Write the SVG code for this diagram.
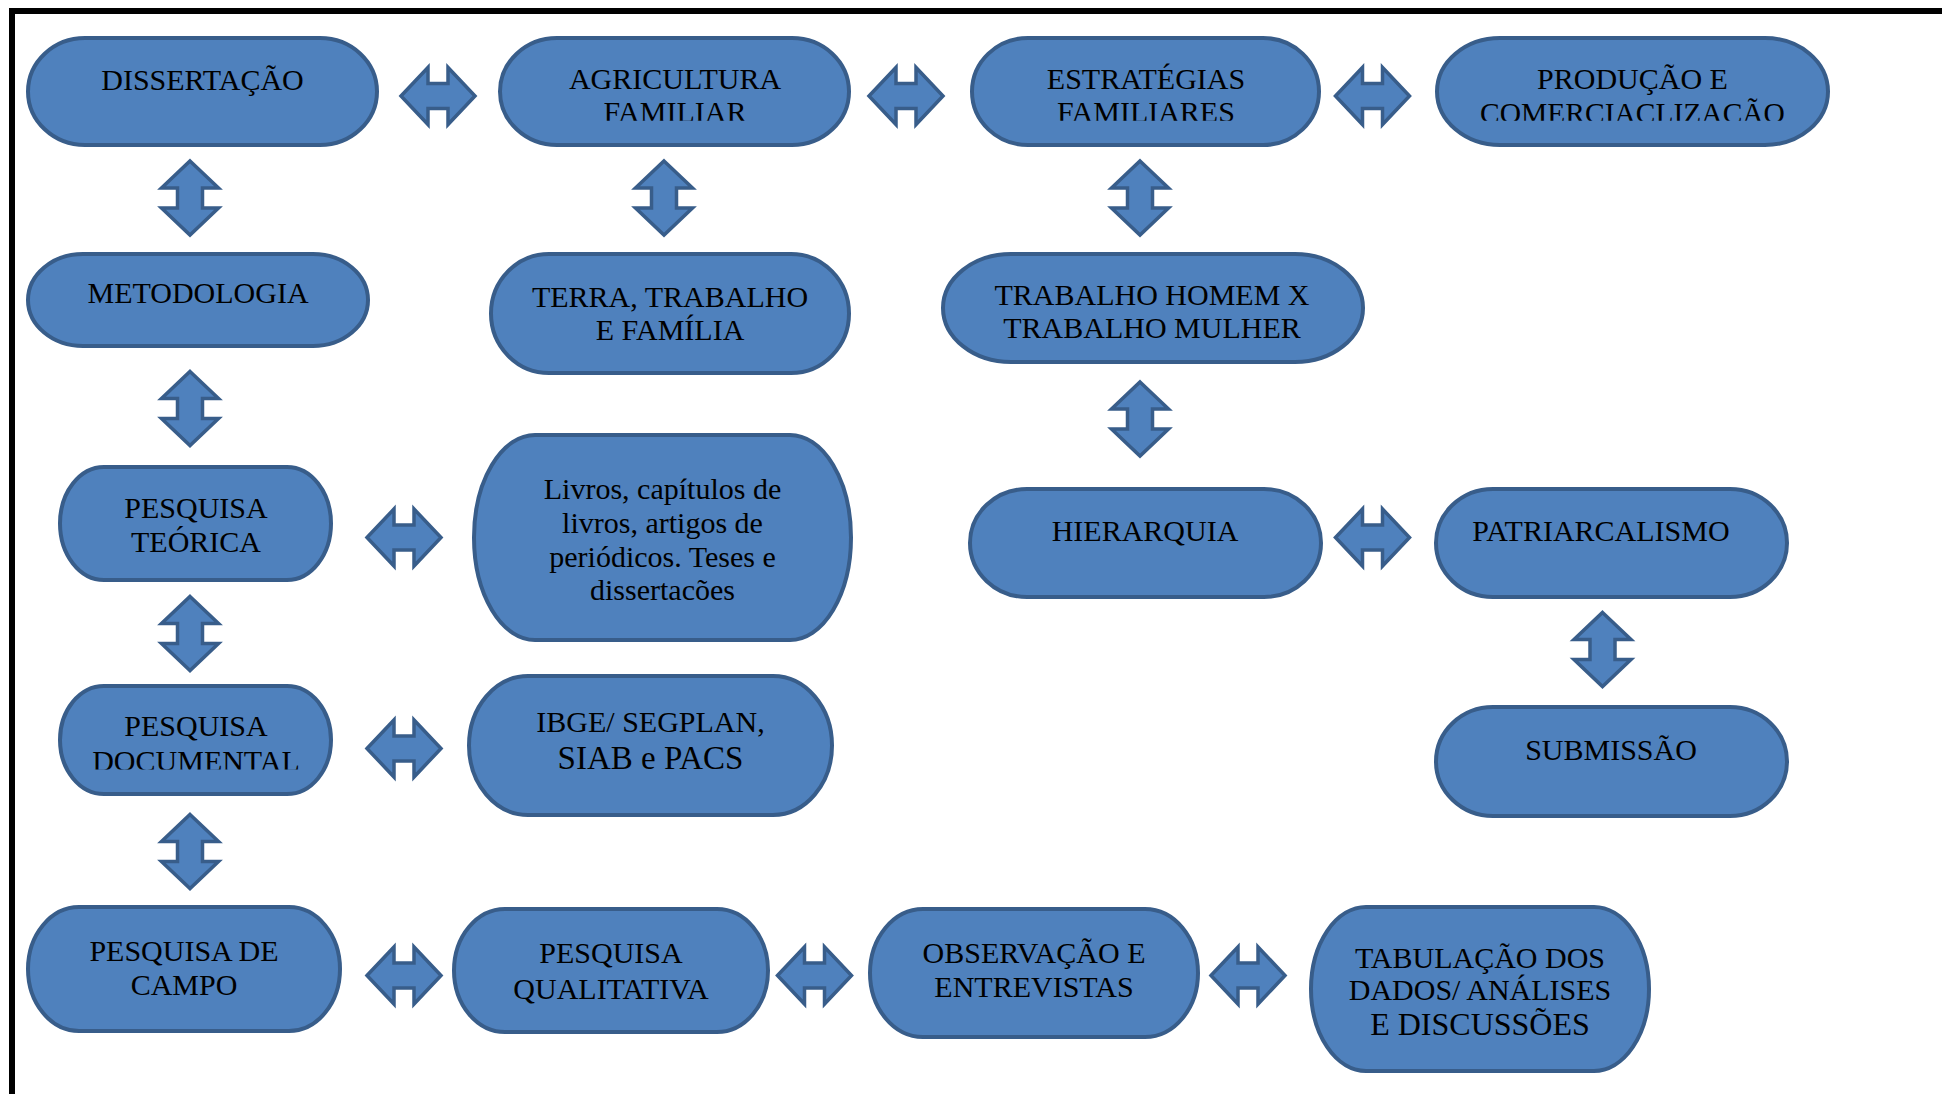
<svg xmlns="http://www.w3.org/2000/svg" xmlns:xlink="http://www.w3.org/1999/xlink" width="1942" height="1094" viewBox="0 0 1942 1094">
<style>
.box{fill:#4F81BD;stroke:#385D8A;stroke-width:4}
.arr{fill:#4F81BD;stroke:#385D8A;stroke-width:3.5;stroke-linejoin:miter}
.t{font-family:"Liberation Serif","Times New Roman",serif;font-size:30px;fill:#000;text-anchor:middle}
</style>
<defs>
<path id="harrow" d="M -37 0 L -10 -28.5 L -10 -12.5 L 10 -12.5 L 10 -28.5 L 37 0 L 10 28.5 L 10 12.5 L -10 12.5 L -10 28.5 Z"/>
<clipPath id="clipTop"><rect x="0" y="0" width="1942" height="120.8"/></clipPath>
<clipPath id="clipDoc"><rect x="0" y="600" width="1942" height="169.5"/></clipPath>
</defs>
<rect x="0" y="0" width="1942" height="1094" fill="#fff"/>
<path d="M12 1094 V11 H1942" fill="none" stroke="#000" stroke-width="6"/>

<g id="connectors">
<use xlink:href="#harrow" href="#harrow" class="arr" transform="translate(438,96)"/>
<use xlink:href="#harrow" href="#harrow" class="arr" transform="translate(906,96)"/>
<use xlink:href="#harrow" href="#harrow" class="arr" transform="translate(1372.5,96)"/>
<use xlink:href="#harrow" href="#harrow" class="arr" transform="translate(404,537.5)"/>
<use xlink:href="#harrow" href="#harrow" class="arr" transform="translate(1372.5,537.5)"/>
<use xlink:href="#harrow" href="#harrow" class="arr" transform="translate(404,748.5)"/>
<use xlink:href="#harrow" href="#harrow" class="arr" transform="translate(404,975.5)"/>
<use xlink:href="#harrow" href="#harrow" class="arr" transform="translate(814.5,975.5)"/>
<use xlink:href="#harrow" href="#harrow" class="arr" transform="translate(1248,975.5)"/>
<use xlink:href="#harrow" href="#harrow" class="arr" transform="translate(190,198) rotate(90)"/>
<use xlink:href="#harrow" href="#harrow" class="arr" transform="translate(664,198) rotate(90)"/>
<use xlink:href="#harrow" href="#harrow" class="arr" transform="translate(1140,198) rotate(90)"/>
<use xlink:href="#harrow" href="#harrow" class="arr" transform="translate(190,408.5) rotate(90)"/>
<use xlink:href="#harrow" href="#harrow" class="arr" transform="translate(1140,419) rotate(90)"/>
<use xlink:href="#harrow" href="#harrow" class="arr" transform="translate(190,633.5) rotate(90)"/>
<use xlink:href="#harrow" href="#harrow" class="arr" transform="translate(1602.5,649.5) rotate(90)"/>
<use xlink:href="#harrow" href="#harrow" class="arr" transform="translate(190,851.5) rotate(90)"/>
</g>

<g id="n-dissertacao">
<rect class="box" x="28" y="38" width="349" height="107" rx="57" ry="53.5"/>
<text class="t" x="202.5" y="90">DISSERTAÇÃO</text>
</g>
<g id="n-agricultura">
<rect class="box" x="500" y="38" width="349" height="107" rx="57" ry="53.5"/>
<g clip-path="url(#clipTop)">
<text class="t" x="675" y="89">AGRICULTURA</text>
<text class="t" x="675" y="122">FAMILIAR</text>
</g>
</g>
<g id="n-estrategias">
<rect class="box" x="972" y="38" width="347" height="107" rx="56" ry="53.5"/>
<g clip-path="url(#clipTop)">
<text class="t" x="1146" y="89">ESTRATÉGIAS</text>
<text class="t" x="1146" y="122">FAMILIARES</text>
</g>
</g>
<g id="n-producao">
<rect class="box" x="1437" y="38" width="391" height="107" rx="63" ry="53.5"/>
<g clip-path="url(#clipTop)">
<text class="t" x="1632.5" y="89">PRODUÇÃO E</text>
<text class="t" x="1632.5" y="122.5" style="font-size:29.5px">COMERCIACLIZAÇÃO</text>
</g>
</g>
<g id="n-metodologia">
<rect class="box" x="28" y="254" width="340" height="92" rx="55" ry="46"/>
<text class="t" x="198" y="303">METODOLOGIA</text>
</g>
<g id="n-terra">
<rect class="box" x="491" y="254" width="358" height="119" rx="58" ry="59.5"/>
<text class="t" x="670" y="307">TERRA, TRABALHO</text>
<text class="t" x="670" y="340">E FAMÍLIA</text>
</g>
<g id="n-trabalho">
<rect class="box" x="943" y="254" width="420" height="108" rx="68" ry="54"/>
<text class="t" x="1152" y="305">TRABALHO HOMEM X</text>
<text class="t" x="1152" y="338">TRABALHO MULHER</text>
</g>
<g id="n-pesquisa-teorica">
<rect class="box" x="60" y="467" width="271" height="113" rx="44" ry="56.5"/>
<text class="t" x="196" y="518">PESQUISA</text>
<text class="t" x="196" y="552">TEÓRICA</text>
</g>
<g id="n-livros">
<rect class="box" x="474" y="435" width="377" height="205" rx="61" ry="102.5"/>
<text class="t" x="662.5" y="499">Livros, capítulos de</text>
<text class="t" x="662.5" y="533">livros, artigos de</text>
<text class="t" x="662.5" y="567">periódicos. Teses e</text>
<text class="t" x="662.5" y="600">dissertacões</text>
</g>
<g id="n-hierarquia">
<rect class="box" x="970" y="489" width="351" height="108" rx="57" ry="54"/>
<text class="t" x="1145" y="541">HIERARQUIA</text>
</g>
<g id="n-patriarcalismo">
<rect class="box" x="1436" y="489" width="351" height="108" rx="57" ry="54"/>
<text class="t" x="1601" y="541">PATRIARCALISMO</text>
</g>
<g id="n-pesquisa-documental">
<rect class="box" x="60" y="686" width="271" height="108" rx="44" ry="54"/>
<text class="t" x="196" y="736">PESQUISA</text>
<g clip-path="url(#clipDoc)">
<text class="t" x="196" y="771">DOCUMENTAL</text>
</g>
</g>
<g id="n-ibge">
<rect class="box" x="469" y="676" width="363" height="139" rx="59" ry="69.5"/>
<text class="t" x="650.5" y="732">IBGE/ SEGPLAN,</text>
<text class="t" x="650.5" y="768.5" style="font-size:33px">SIAB e PACS</text>
</g>
<g id="n-submissao">
<rect class="box" x="1436" y="707" width="351" height="109" rx="57" ry="54.5"/>
<text class="t" x="1611" y="759.5">SUBMISSÃO</text>
</g>
<g id="n-pesquisa-campo">
<rect class="box" x="28" y="907" width="312" height="124" rx="51" ry="62"/>
<text class="t" x="184" y="961">PESQUISA DE</text>
<text class="t" x="184" y="995">CAMPO</text>
</g>
<g id="n-pesquisa-qualitativa">
<rect class="box" x="454" y="909" width="314" height="123" rx="51" ry="61.5"/>
<text class="t" x="611" y="962.5">PESQUISA</text>
<text class="t" x="611" y="998.5">QUALITATIVA</text>
</g>
<g id="n-observacao">
<rect class="box" x="870" y="909" width="328" height="128" rx="53" ry="64"/>
<text class="t" x="1034" y="963">OBSERVAÇÃO E</text>
<text class="t" x="1034" y="997">ENTREVISTAS</text>
</g>
<g id="n-tabulacao">
<rect class="box" x="1311" y="907" width="338" height="164" rx="55" ry="82"/>
<text class="t" x="1480" y="967.5">TABULAÇÃO DOS</text>
<text class="t" x="1480" y="999.5">DADOS/ ANÁLISES</text>
<text class="t" x="1480" y="1035" style="font-size:32px">E DISCUSSÕES</text>
</g>
</svg>
